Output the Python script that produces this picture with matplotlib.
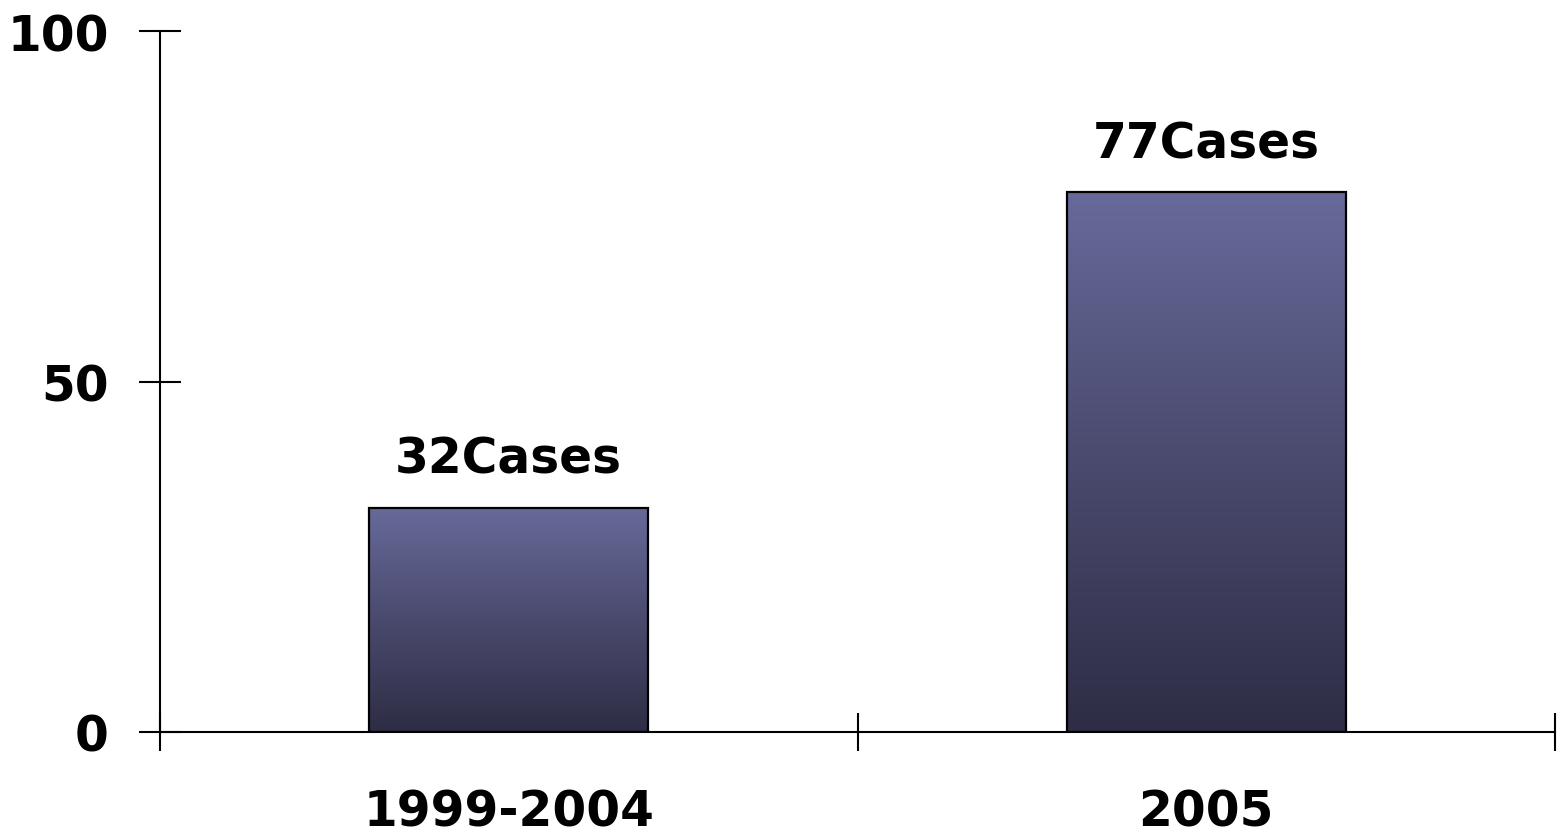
import matplotlib.pyplot as plt
import numpy as np
from matplotlib.colors import LinearSegmentedColormap

periods = ['1999-2004', '2005']
cases = [32, 77]
bar_labels = ['32Cases', '77Cases']
y_ticks = [0, 50, 100]

plt.rcParams['font.family'] = ['DejaVu Sans']
plt.rcParams['font.weight'] = 'bold'

fig = plt.figure(figsize=(15.6, 8.37), dpi=100)
ax = fig.add_axes([160 / 1560, 1 - 733 / 837, 1395 / 1560, 701 / 837])

x = np.arange(len(periods))
bars = ax.bar(x, cases, width=0.4, color='none', edgecolor='black', linewidth=1.6, zorder=3)

# vertical gradient fill for each bar
cmap = LinearSegmentedColormap.from_list('barfade', ['#2e2d45', '#4a4a6e', '#676a9a'])
grad = np.linspace(0, 1, 256).reshape(-1, 1)
for b in bars:
    x0, y0 = b.get_x(), b.get_y()
    w, h = b.get_width(), b.get_height()
    im = ax.imshow(grad, cmap=cmap, origin='lower', aspect='auto',
                   extent=[x0, x0 + w, y0, y0 + h], zorder=2)
    im.set_clip_path(b)

for xi, v, lab in zip(x, cases, bar_labels):
    ax.annotate(lab, (xi, v), xytext=(0, 18), textcoords='offset points',
                ha='center', va='bottom', fontsize=35, fontweight='bold')

ax.set_xlim(-0.5, 1.5)
ax.set_ylim(0, 100)

ax.spines['top'].set_visible(False)
ax.spines['right'].set_visible(False)
ax.spines['left'].set_linewidth(1.5)
ax.spines['bottom'].set_linewidth(1.5)

ax.set_yticks(y_ticks)
ax.tick_params(axis='y', direction='inout', length=30, width=1.5, pad=22, labelsize=35)

ax.set_xticks(x)
ax.set_xticklabels(periods)
ax.set_xticks([-0.5, 0.5, 1.5], minor=True)
ax.tick_params(axis='x', which='major', length=0, pad=40, labelsize=35)
ax.tick_params(axis='x', which='minor', direction='inout', length=27, width=1.5)

for t in ax.get_xticklabels() + ax.get_yticklabels():
    t.set_fontweight('bold')

fig.savefig('out.png', dpi=100, facecolor='white')
